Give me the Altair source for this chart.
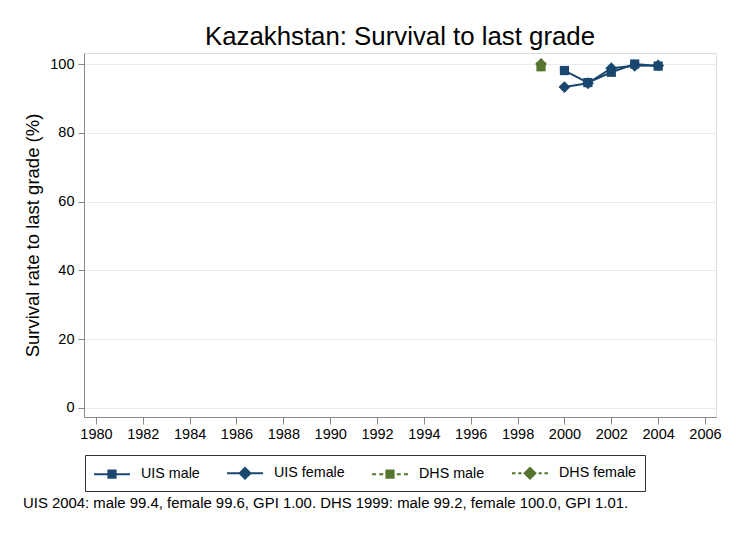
import altair as alt
import pandas as pd

# ---- data ----
series_names = ["UIS male", "UIS female", "DHS male", "DHS female"]
uis_years = [2000, 2001, 2002, 2003, 2004]
uis_male = [98.1, 94.6, 97.6, 100.0, 99.4]
uis_female = [93.3, 94.4, 98.8, 99.5, 99.6]
dhs_years = [1999]
dhs_male = [99.2]
dhs_female = [100.0]
x_ticks = list(range(1980, 2007, 2))
y_ticks = [0, 20, 40, 60, 80, 100]
footnote = "UIS 2004: male 99.4, female 99.6, GPI 1.00. DHS 1999: male 99.2, female 100.0, GPI 1.01."

NAVY = "#1a476f"
GREEN = "#55752f"
FONT = "Liberation Sans"

rows = []
for y, v in zip(uis_years, uis_male):
    rows.append({"series": "UIS male", "year": y, "value": v})
for y, v in zip(uis_years, uis_female):
    rows.append({"series": "UIS female", "year": y, "value": v})
for y, v in zip(dhs_years, dhs_male):
    rows.append({"series": "DHS male", "year": y, "value": v})
for y, v in zip(dhs_years, dhs_female):
    rows.append({"series": "DHS female", "year": y, "value": v})
df = pd.DataFrame(rows)

xscale = alt.Scale(domain=[1979.49, 2006.47], nice=False, zero=False)
yscale = alt.Scale(domain=[-2.62, 103.2], nice=False, zero=False)

X = alt.X("year:Q", scale=xscale,
          axis=alt.Axis(values=x_ticks, format="d", title=None, grid=False,
                        tickSize=7, labelPadding=3, labelFontSize=14.5))
Y = alt.Y("value:Q", scale=yscale,
          axis=alt.Axis(values=y_ticks, format="d", title="Survival rate to last grade (%)",
                        grid=True, gridColor="#e4edf0", tickSize=6, labelPadding=4,
                        labelFontSize=14.5, titleFontSize=18.5, titleFontWeight="normal",
                        titlePadding=7))

color_scale = alt.Scale(domain=series_names, range=[NAVY, NAVY, GREEN, GREEN])
C = alt.Color("series:N", scale=color_scale, legend=None)

base = alt.Chart(df)

lines = base.mark_line(strokeWidth=2).encode(
    x=X, y=Y, color=C, detail="series:N"
)

sq = base.transform_filter(
    alt.FieldOneOfPredicate(field="series", oneOf=["UIS male", "DHS male"])
).mark_point(shape="square", filled=True, size=85, opacity=1).encode(x=X, y=Y, color=C)

di = base.transform_filter(
    alt.FieldOneOfPredicate(field="series", oneOf=["UIS female", "DHS female"])
).mark_point(shape="diamond", filled=True, size=140, opacity=1).encode(x=X, y=Y, color=C)

# custom legend symbols: line (solid or dashed) with marker in the middle
sym_uis_m = "M-1,0L3,0M0.6,-0.4L1.4,-0.4L1.4,0.4L0.6,0.4Z"
sym_uis_f = "M-1,0L3,0M1,-0.6L1.6,0L1,0.6L0.4,0Z"
sym_dhs_m = "M-1,0L-0.55,0M-0.2,0L0.25,0M1.75,0L2.2,0M2.55,0L3,0M0.6,-0.4L1.4,-0.4L1.4,0.4L0.6,0.4Z"
sym_dhs_f = "M-1,0L-0.6,0M-0.3,0L0.05,0M1.95,0L2.3,0M2.6,0L3,0M1,-0.6L1.6,0L1,0.6L0.4,0Z"

leg = alt.Legend(title=None, orient="none", legendX=1, legendY=402, direction="horizontal",
                 columns=4, columnPadding=23, padding=8, strokeColor="#333333",
                 fillColor="white", labelFontSize=14.3, labelFont=FONT, labelOffset=28,
                 symbolSize=324, symbolStrokeWidth=2, symbolOpacity=1,
                 labelColor="black")

pal = alt.Scale(domain=series_names, range=[NAVY, NAVY, GREEN, GREEN])
legend_layer = base.mark_point(filled=True, opacity=0).encode(
    x=X, y=Y,
    fill=alt.Fill("series:N", scale=pal, legend=leg),
    stroke=alt.Stroke("series:N", scale=pal, legend=leg),
    shape=alt.Shape("series:N", scale=alt.Scale(domain=series_names, range=[sym_uis_m, sym_uis_f, sym_dhs_m, sym_dhs_f]), legend=leg),
)

note = alt.Chart(pd.DataFrame({"t": [footnote]})).mark_text(
    align="left", baseline="alphabetic", fontSize=14.9, font=FONT, color="black"
).encode(x=alt.value(-61), y=alt.value(455), text="t:N")

chart = alt.layer(legend_layer, lines, sq, di, note).properties(
    width=632, height=364,
    title=alt.TitleParams("Kazakhstan: Survival to last grade", fontSize=25.8, font=FONT,
                          fontWeight="normal", anchor="middle", color="black", offset=2),
    autosize=alt.AutoSizeParams(type="none"),
    padding={"left": 76, "top": 45, "right": 12, "bottom": 110},
).configure_view(stroke=None).configure_axis(
    domainColor="black", tickColor="black", labelColor="black", titleColor="black",
    labelFont=FONT, titleFont=FONT, domainWidth=1, tickWidth=1
).configure(background="white")

chart.save("out.html", embed_options={"renderer": "svg", "actions": False})
